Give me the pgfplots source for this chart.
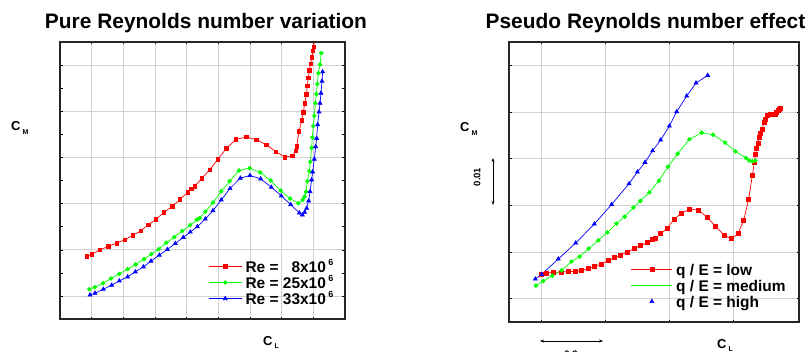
\documentclass[border=0pt]{standalone}
\usepackage{pgfplots}
\pgfplotsset{compat=1.18}
\usepackage{fontspec}
\setmainfont{Liberation Sans}
\usetikzlibrary{arrows.meta}
\newcommand{\legfont}{\bfseries\fontsize{15.5}{16}\selectfont}
\pgfplotsset{
  common/.style={scale only axis, axis line style={line width=1.1pt, black!85},
    tick align=inside, xticklabels={}, yticklabels={}, grid=major,
    major grid style={gray!35, line width=0.8pt}, tick style={black, line width=0.5pt},
    major tick length=2.5bp, minor tick length=2.5bp, clip=true,
    every axis plot/.append style={line width=0.7pt},
    legend style={draw=none, fill=none, inner sep=0pt, font=\legfont,
      legend cell align=left, row sep=0pt, nodes={inner sep=0.5bp, font=\legfont, text height=11.5bp, text depth=3.5bp}},
  },
  legimg/.style={legend image code/.code={\draw[mark repeat=2,mark phase=2,##1] plot coordinates {(0bp,1.5bp) (#1/2,1.5bp) (#1,1.5bp)};
     \path (#1+3bp,1.5bp);}},
  redS/.style={red, mark=square*, mark size=1.8bp, mark options={solid}},
  greenS/.style={green, mark=*, mark size=1.9bp},
  blueS/.style={blue, mark=triangle*, mark size=2.2bp},
}
\begin{document}
\begin{tikzpicture}
\useasboundingbox (0,0) rectangle (811bp,352bp);
% ---------- left ----------
\begin{axis}[common, legimg=33bp, at={(60bp,33bp)}, anchor=south west, width=285bp, height=277bp,
  xmin=0, xmax=9, ymin=0, ymax=6, xtick={1,...,8}, ytick={0.5,1.5,...,5.5}, minor ytick={1,...,5},
  legend style={at={(0.52,0.126)}, anchor=west}]
\addplot[redS] coordinates {
(0.842,1.355)(1.0,1.399)(1.263,1.5)(1.526,1.572)(1.789,1.645)(2.042,1.717)(2.295,1.812)(2.547,1.906)
(2.789,2.043)(3.032,2.159)(3.284,2.312)(3.547,2.442)(3.789,2.587)(4.032,2.746)(4.147,2.819)(4.253,2.877)
(4.474,3.043)(4.726,3.232)(4.989,3.464)(5.253,3.696)(5.558,3.891)(5.884,3.942)(6.2,3.884)(6.516,3.775)
(6.821,3.623)(7.095,3.507)(7.347,3.536)(7.442,3.638)(7.474,3.739)(7.547,4.065)(7.632,4.297)(7.684,4.471)
(7.726,4.667)(7.779,4.862)(7.811,5.051)(7.842,5.225)(7.874,5.384)(7.916,5.529)(7.958,5.674)(7.989,5.812)
(8.011,5.899)(8.032,6.007)};
\addlegendentry{Re = \hphantom{2}8x10\,\raisebox{0.45em}{\fontsize{9}{10}\selectfont 6}}
\addplot[greenS] coordinates {
(0.926,0.645)(1.095,0.688)(1.358,0.775)(1.611,0.877)(1.874,0.978)(2.137,1.080)(2.389,1.181)(2.653,1.297)
(2.884,1.406)(3.116,1.514)(3.358,1.652)(3.611,1.775)(3.863,1.906)(4.116,2.036)(4.326,2.152)(4.411,2.188)
(4.589,2.326)(4.832,2.522)(5.095,2.768)(5.358,2.986)(5.653,3.217)(5.989,3.268)(6.326,3.174)(6.653,3.0)
(6.968,2.783)(7.263,2.609)(7.526,2.507)(7.663,2.580)(7.726,2.652)(7.768,2.754)(7.811,2.986)(7.874,3.203)
(7.905,3.406)(7.947,3.710)(7.968,3.935)(8.0,4.181)(8.032,4.399)(8.063,4.674)(8.095,4.870)(8.126,5.087)
(8.158,5.326)(8.211,5.514)(8.253,5.761)};
\addlegendentry{Re = 25x10\,\raisebox{0.45em}{\fontsize{9}{10}\selectfont 6}}
\addplot[blueS] coordinates {
(0.947,0.522)(1.105,0.558)(1.368,0.645)(1.632,0.732)(1.874,0.826)(2.137,0.913)(2.379,1.022)(2.632,1.130)
(2.874,1.254)(3.137,1.384)(3.389,1.507)(3.642,1.638)(3.895,1.768)(4.116,1.884)(4.337,2.0)(4.589,2.167)
(4.832,2.348)(5.095,2.580)(5.368,2.826)(5.695,3.051)(6.0,3.109)(6.337,3.036)(6.674,2.855)(6.989,2.667)
(7.284,2.478)(7.558,2.297)(7.653,2.254)(7.726,2.312)(7.789,2.399)(7.853,2.558)(7.895,2.761)(7.947,3.014)
(7.979,3.188)(8.032,3.464)(8.074,3.732)(8.105,3.913)(8.137,4.210)(8.179,4.486)(8.211,4.674)(8.242,4.891)
(8.274,5.152)(8.295,5.355)};
\addlegendentry{Re = 33x10\,\raisebox{0.45em}{\fontsize{9}{10}\selectfont 6}}
\end{axis}
% ---------- right ----------
\begin{axis}[common, legimg=41bp, at={(509bp,30bp)}, anchor=south west, width=290bp, height=280bp,
  xmin=-0.51, xmax=4.02, ymin=-1.5, ymax=4.5, xtick={0,...,3}, ytick={-1,...,4},
  legend style={at={(0.42,0.125)}, anchor=west}]
\addplot[redS, mark size=2bp] coordinates {
(0,-0.479)(0.078,-0.45)(0.182,-0.436)(0.302,-0.429)(0.417,-0.421)(0.521,-0.414)(0.615,-0.4)(0.729,-0.35)
(0.823,-0.314)(0.927,-0.257)(1.042,-0.179)(1.141,-0.121)(1.234,-0.064)(1.344,0)(1.448,0.079)(1.547,0.136)
(1.656,0.2)(1.734,0.264)(1.776,0.293)(1.859,0.393)(1.958,0.507)(2.073,0.707)(2.182,0.829)(2.307,0.921)
(2.453,0.893)(2.589,0.743)(2.719,0.543)(2.849,0.364)(2.958,0.286)(3.068,0.393)(3.156,0.679)(3.234,1.136)
(3.292,1.65)(3.323,1.921)(3.339,2.086)(3.359,2.214)(3.380,2.336)(3.401,2.464)(3.422,2.55)(3.443,2.636)
(3.474,2.779)(3.495,2.85)(3.526,2.921)(3.568,2.957)(3.609,2.95)(3.646,2.95)(3.672,2.993)(3.693,3.036)
(3.714,3.064)(3.729,3.086)};
\addlegendentry{q / E = low}
\addplot[greenS, forget plot] coordinates {
(-0.089,-0.721)(0.026,-0.621)(0.167,-0.507)(0.3125,-0.393)(0.464,-0.207)(0.594,-0.1)(0.734,0.071)(0.885,0.25)
(1.026,0.421)(1.167,0.607)(1.297,0.757)(1.432,0.95)(1.542,1.093)(1.682,1.279)(1.833,1.529)(1.974,1.829)
(2.125,2.107)(2.307,2.414)(2.5,2.557)(2.677,2.514)(2.865,2.343)(3.026,2.157)(3.193,2.014)(3.245,1.957)
(3.292,1.943)(3.339,1.957)};
\addlegendimage{green, no marks, line width=0.7pt}
\addlegendentry{q / E = medium}
\addplot[blueS, forget plot] coordinates {
(-0.099,-0.579)(0,-0.479)(0.260,-0.150)(0.531,0.193)(0.823,0.6)(1.094,1.021)(1.365,1.464)(1.495,1.714)
(1.615,1.921)(1.734,2.171)(1.859,2.4)(1.995,2.7)(2.109,3.007)(2.266,3.343)(2.411,3.621)(2.594,3.786)};
\addlegendimage{blue, only marks, mark=triangle*, mark size=2.2bp}
\addlegendentry{q / E = high}
\end{axis}
% ---------- titles and labels ----------
\node[font=\bfseries\fontsize{21}{24}\selectfont] at (206bp,329bp) {Pure Reynolds number variation};
\node[font=\bfseries\fontsize{21}{24}\selectfont] at (645.5bp,329bp) {Pseudo Reynolds number effect};
\node[anchor=base west, inner sep=0pt, font=\bfseries\fontsize{13}{14}\selectfont] at (11bp,221bp) {C\,\raisebox{-0.45ex}{\fontsize{7}{8}\selectfont M}};
\node[anchor=base west, inner sep=0pt, font=\bfseries\fontsize{13}{14}\selectfont] at (263bp,7bp) {C\,\raisebox{-0.45ex}{\fontsize{7}{8}\selectfont L}};
\node[anchor=base west, inner sep=0pt, font=\bfseries\fontsize{13}{14}\selectfont] at (460bp,220bp) {C\,\raisebox{-0.45ex}{\fontsize{7}{8}\selectfont M}};
\node[anchor=base west, inner sep=0pt, font=\bfseries\fontsize{13}{14}\selectfont] at (717bp,4bp) {C\,\raisebox{-0.45ex}{\fontsize{7}{8}\selectfont L}};
\node[rotate=90, font=\bfseries\fontsize{9.5}{10}\selectfont] at (477bp,175bp) {0.01};
\draw[line width=0.8pt, {Stealth[length=4bp,width=3bp]}-{Stealth[length=4bp,width=3bp]}] (493bp,147bp) -- (493bp,194bp);
\draw[line width=0.8pt, {Stealth[length=4bp,width=3bp]}-{Stealth[length=4bp,width=3bp]}] (540bp,11bp) -- (603bp,11bp);
\node[font=\bfseries\fontsize{9.5}{10}\selectfont, anchor=north] at (571bp,5bp) {0.2};
\end{tikzpicture}
\end{document}
